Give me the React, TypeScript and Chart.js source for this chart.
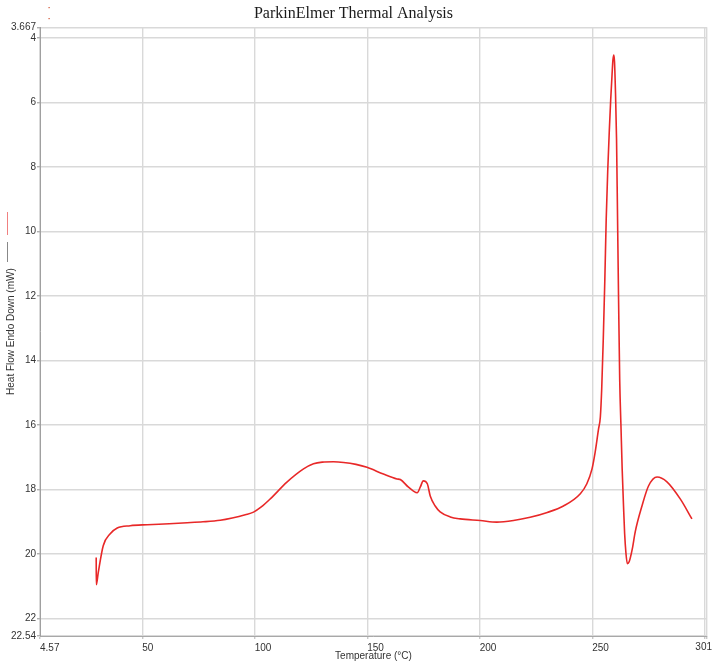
import React, { useEffect, useRef } from "react";
import { Chart, registerables } from "chart.js";

Chart.register(...registerables);

const temperature: number[] = [
  29.55, 29.6, 30.44, 32.67, 35.78, 38.89, 44.67, 52.22, 62.0, 70.0,
  77.0, 84.67, 90.0, 95.8, 99.47, 102.9, 106.9, 114.3, 121.7, 126.1,
  130.0, 135.0, 139.5, 145.0, 149.9, 157.2, 163.2, 164.7, 168.2, 170.4,
  172.2, 173.6, 174.9, 176.7, 178.0, 180.2, 182.4, 186.9, 191.3, 200.2,
  207.6, 215.0, 222.4, 230.0, 237.2, 244.7, 247.6, 249.9, 251.3, 252.8,
  253.6, 254.2, 254.9, 255.6, 256.2, 256.9, 257.6, 258.2, 258.8, 259.2,
  259.6, 259.9, 260.3, 260.8, 261.2, 261.7, 262.2, 262.8, 263.3, 263.9,
  264.4, 265.0, 265.6, 266.4, 267.8, 269.1, 272.1, 275.0, 278.8, 283.2,
  289.1, 294.3,
];

const heatFlow: number[] = [
  20.11, 20.95, 20.58, 19.74, 19.37, 19.19, 19.12, 19.09, 19.06, 19.03,
  19.0, 18.95, 18.88, 18.78, 18.7, 18.54, 18.29, 17.77, 17.36, 17.2,
  17.15, 17.14, 17.16, 17.22, 17.31, 17.52, 17.67, 17.69, 17.92, 18.04,
  18.1, 17.92, 17.73, 17.82, 18.2, 18.51, 18.69, 18.85, 18.91, 18.96,
  19.01, 18.96, 18.86, 18.71, 18.51, 18.13, 17.82, 17.36, 16.84, 16.12,
  15.75, 14.89, 13.34, 11.48, 9.63, 8.08, 6.85, 5.92, 5.14, 4.68,
  4.53, 4.74, 5.61, 7.15, 9.32, 12.1, 14.58, 16.12, 17.36, 18.51,
  19.37, 19.99, 20.3, 20.24, 19.84, 19.31, 18.51, 17.89, 17.61, 17.76,
  18.29, 18.91,
];

const xTickValues: number[] = [4.57, 50, 100, 150, 200, 250, 300, 301];
const xTickLabels: string[] = ["4.57", "50", "100", "150", "200", "250", "", ""];
const xEndLabel = "301";

const yTickValues: number[] = [3.667, 4, 6, 8, 10, 12, 14, 16, 18, 20, 22, 22.54];
const yTickLabels: string[] = ["3.667", "4", "6", "8", "10", "12", "14", "16", "18", "20", "22", "22.54"];

const titleText = "ParkinElmer Thermal Analysis";
const xTitle = "Temperature (°C)";
const yTitle = "Heat Flow Endo Down (mW)";

const SANS = "'Liberation Sans', Arial, sans-serif";
const SERIF = "'Liberation Serif', 'Times New Roman', serif";

const decorPlugin = {
  id: "decor",
  afterDraw(chart: any) {
    const ctx = chart.ctx;
    const xs = chart.scales.x;
    ctx.save();
    ctx.font = `10px ${SANS}`;
    ctx.fillStyle = "#333";
    ctx.textAlign = "right";
    ctx.textBaseline = "top";
    const px = xs.getPixelForValue(301);
    const w = ctx.measureText(xEndLabel).width;
    ctx.fillText(xEndLabel, Math.min(chart.width, px + w), chart.chartArea.bottom + 6);
    ctx.lineWidth = 1;
    ctx.strokeStyle = "#f08080";
    ctx.beginPath();
    ctx.moveTo(7.5, 212);
    ctx.lineTo(7.5, 235);
    ctx.stroke();
    ctx.strokeStyle = "#888";
    ctx.beginPath();
    ctx.moveTo(7.5, 242);
    ctx.lineTo(7.5, 262);
    ctx.stroke();
    ctx.fillStyle = "#d05030";
    ctx.fillRect(48.5, 7, 1.2, 1.2);
    ctx.fillRect(48.5, 18, 1.2, 1.2);
    ctx.restore();
  },
};

export default function App() {
  const ref = useRef<HTMLCanvasElement | null>(null);

  useEffect(() => {
    if (!ref.current) return;
    const points = temperature.map((t, i) => ({ x: t, y: heatFlow[i] }));
    const chart = new Chart(ref.current, {
      type: "line",
      data: {
        datasets: [
          {
            data: points,
            borderColor: "rgb(232, 40, 40)",
            borderWidth: 1.6,
            pointRadius: 0,
            cubicInterpolationMode: "monotone",
            fill: false,
          },
        ],
      },
      options: {
        animation: false,
        responsive: false,
        parsing: false,
        layout: { padding: { left: 0, right: 5, top: 0, bottom: 0 } },
        plugins: {
          legend: { display: false },
          tooltip: { enabled: false },
          title: {
            display: true,
            text: titleText,
            color: "#1a1a1a",
            font: { family: SERIF, size: 16, weight: "normal" },
            padding: { top: 4, bottom: 4 },
          },
        },
        scales: {
          x: {
            type: "linear",
            min: 4.57,
            max: 301,
            afterBuildTicks: (scale: any) => {
              scale.ticks = xTickValues.map((v) => ({ value: v }));
            },
            afterFit: (scale: any) => {
              scale.height = 32;
              scale.paddingLeft = 0;
              scale.paddingRight = 0;
            },
            ticks: {
              autoSkip: false,
              maxRotation: 0,
              align: "start",
              padding: 3,
              color: "#333",
              font: { family: SANS, size: 10 },
              callback: (_v: any, i: number) => xTickLabels[i],
            },
            grid: {
              color: "#d9d9d9",
              lineWidth: 1.4,
              tickLength: 3,
              tickColor: "#c8c8c8",
            },
            border: { display: true, color: "#a8a8a8", width: 1 },
            title: {
              display: true,
              text: xTitle,
              color: "#333",
              font: { family: SANS, size: 10 },
              padding: { top: 0, bottom: 6 },
            },
          },
          y: {
            type: "linear",
            reverse: true,
            min: 3.667,
            max: 22.54,
            afterBuildTicks: (scale: any) => {
              scale.ticks = yTickValues.map((v) => ({ value: v }));
            },
            afterFit: (scale: any) => {
              scale.width = 40;
            },
            ticks: {
              autoSkip: false,
              padding: 1,
              color: "#333",
              font: { family: SANS, size: 10 },
              callback: (_v: any, i: number) => yTickLabels[i],
            },
            grid: {
              color: "#d9d9d9",
              lineWidth: 1.4,
              tickLength: 3,
              tickColor: "#b0b0b0",
            },
            border: { display: true, color: "#a0a0a0", width: 1 },
            title: {
              display: true,
              text: yTitle,
              color: "#333",
              font: { family: SANS, size: 10 },
              padding: { top: 5, bottom: 0 },
            },
          },
        },
      },
      plugins: [decorPlugin],
    } as any);
    return () => chart.destroy();
  }, []);

  return (
    <div style={{ position: "absolute", left: 0, top: 0, width: 712, height: 668, background: "#fff" }}>
      <canvas ref={ref} width={712} height={668} style={{ display: "block" }} />
    </div>
  );
}
